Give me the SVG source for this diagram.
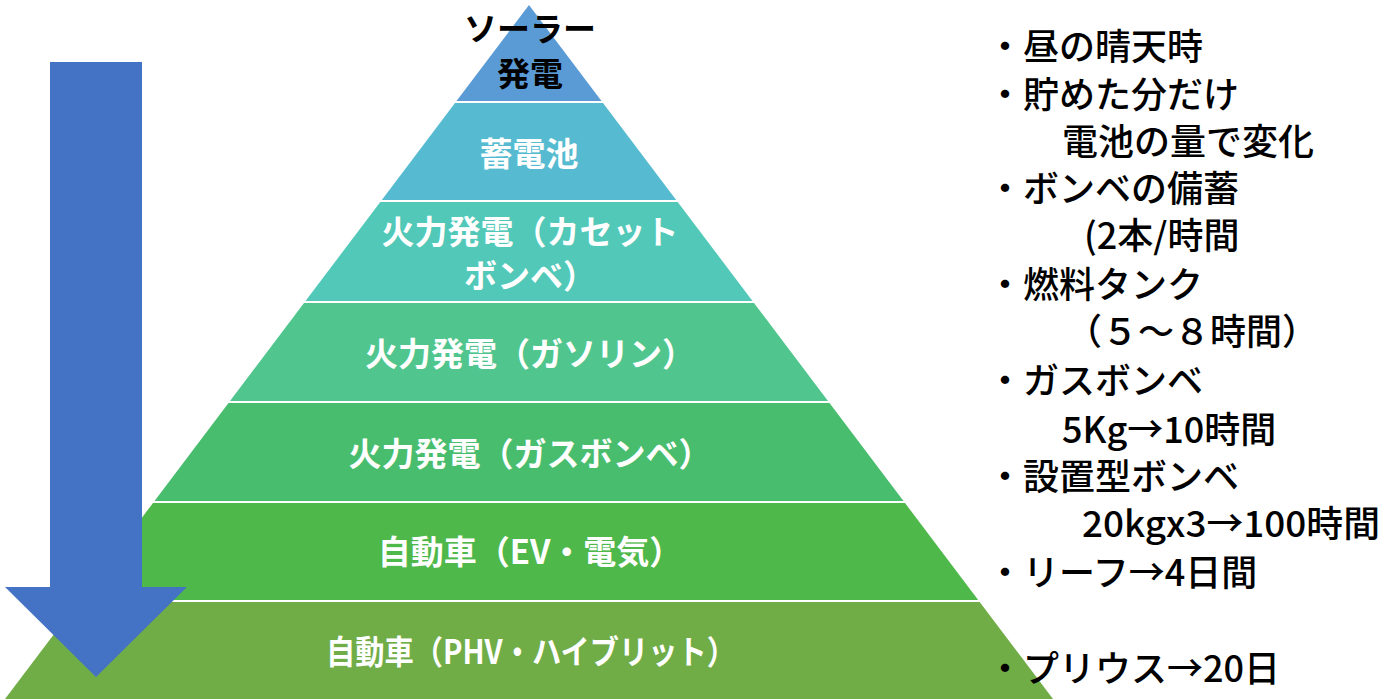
<svg xmlns="http://www.w3.org/2000/svg" width="1390" height="699" viewBox="0 0 1390 699">
<style>
.lbl{font-family:"Noto Sans CJK JP","Noto Sans",sans-serif;font-weight:700;font-size:33px;fill:#fff;text-anchor:middle;dominant-baseline:central}
.top{fill:#000}
.note{font-family:"Noto Sans CJK JP","Noto Sans",sans-serif;font-weight:500;font-size:36px;fill:#000;dominant-baseline:central}
</style>
<rect width="1390" height="699" fill="#fff"/>
<g id="level1"><polygon points="529,5 601.5,101 456.5,101" fill="#5b9bd5"/>
<text class="lbl top" x="530" y="27">ソーラー</text><text class="lbl top" x="530" y="72">発電</text></g>
<g id="level2"><polygon points="455,103 603,103 676.2,200 381.8,200" fill="#56bbd0"/>
<text class="lbl" x="529" y="152">蓄電池</text></g>
<g id="level3"><polygon points="380.3,202 677.7,202 752.5,301 305.5,301" fill="#51c8b8"/>
<text class="lbl" x="530" y="230">火力発電（カセット</text><text class="lbl" x="530" y="274">ボンベ）</text></g>
<g id="level4"><polygon points="304,303 754,303 828,401 230,401" fill="#50c68e"/>
<text class="lbl" x="530" y="352">火力発電（ガソリン）</text></g>
<g id="level5"><polygon points="228.5,403 829.5,403 903.5,501 154.5,501" fill="#49bd6e"/>
<text class="lbl" x="530" y="452">火力発電（ガスボンベ）</text></g>
<g id="level6"><polygon points="153,503 905,503 978.2,600 79.8,600" fill="#4fb84b"/>
<text class="lbl" x="530" y="550">自動車（EV・電気）</text></g>
<g id="level7"><polygon points="78.3,602 979.7,602 1053,699 5,699" fill="#70ad47"/>
<text class="lbl" x="531" y="650" textLength="410" lengthAdjust="spacingAndGlyphs">自動車（PHV・ハイブリット）</text></g>
<g id="connectors"><polygon id="arrow" points="50,62 142,62 142,587 187,587 96,677 5,587 50,587" fill="#4472c4"/></g>
<g id="notes">
<text class="note" x="987" y="44">・昼の晴天時</text>
<text class="note" x="987" y="92">・貯めた分だけ</text>
<text class="note" x="1062" y="139">電池の量で変化</text>
<text class="note" x="987" y="186">・ボンベの備蓄</text>
<text class="note" x="1084" y="233">(2本/時間</text>
<text class="note" x="987" y="282">・燃料タンク</text>
<text class="note" x="1066" y="329">（５～８時間）</text>
<text class="note" x="987" y="378">・ガスボンベ</text>
<text class="note" x="1062" y="427">5Kg→10時間</text>
<text class="note" x="987" y="474">・設置型ボンベ</text>
<text class="note" x="1082" y="521" textLength="298" lengthAdjust="spacingAndGlyphs">20kgx3→100時間</text>
<text class="note" x="987" y="570">・リーフ→4日間</text>
<text class="note" x="987" y="666">・プリウス→20日</text>
</g>
</svg>
